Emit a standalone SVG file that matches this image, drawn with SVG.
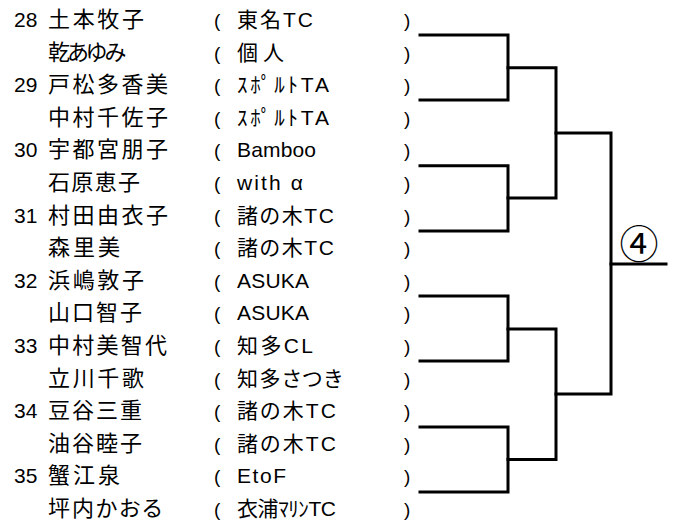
<svg xmlns="http://www.w3.org/2000/svg" width="678" height="522" viewBox="0 0 678 522">
<style>
text{font-family:"Liberation Sans","Noto Sans CJK JP",sans-serif;fill:#000;font-size:21px;font-feature-settings:"palt"}
.num{font-size:21px}
.nm{font-size:22px}
.p{font-size:19px}
.c{stroke:#000;stroke-width:3;fill:none;stroke-linecap:square;stroke-linejoin:miter}
.seed{font-size:39px}
</style>
<rect width="678" height="522" fill="#fff"/>
<g id="p1"><text class="num" x="14" y="27">28</text><text class="nm" x="48" y="27" textLength="96" lengthAdjust="spacing">土本牧子</text><text class="p" x="214" y="27">(</text><text x="237" y="27" textLength="76" lengthAdjust="spacing">東名TC</text><text class="p" x="404" y="27">)</text></g>
<g id="p2"><text class="nm" x="48" y="59.6" textLength="78" lengthAdjust="spacing">乾あゆみ</text><text class="p" x="214" y="59.6">(</text><text x="237" y="59.6" textLength="47" lengthAdjust="spacing">個人</text><text class="p" x="404" y="59.6">)</text></g>
<g id="p3"><text class="num" x="14" y="92.2">29</text><text class="nm" x="48" y="92.2" textLength="120" lengthAdjust="spacing">戸松多香美</text><text class="p" x="214" y="92.2">(</text><text x="237" y="92.2" textLength="92" lengthAdjust="spacing">ｽﾎﾟﾙﾄTA</text><text class="p" x="404" y="92.2">)</text></g>
<g id="p4"><text class="nm" x="48" y="124.8" textLength="120" lengthAdjust="spacing">中村千佐子</text><text class="p" x="214" y="124.8">(</text><text x="237" y="124.8" textLength="92" lengthAdjust="spacing">ｽﾎﾟﾙﾄTA</text><text class="p" x="404" y="124.8">)</text></g>
<g id="p5"><text class="num" x="14" y="157.4">30</text><text class="nm" x="48" y="157.4" textLength="120" lengthAdjust="spacing">宇都宮朋子</text><text class="p" x="214" y="157.4">(</text><text x="237" y="157.4" textLength="79" lengthAdjust="spacing">Bamboo</text><text class="p" x="404" y="157.4">)</text></g>
<g id="p6"><text class="nm" x="48" y="190" textLength="92" lengthAdjust="spacing">石原恵子</text><text class="p" x="214" y="190">(</text><text x="237" y="190" textLength="66" lengthAdjust="spacing">with α</text><text class="p" x="404" y="190">)</text></g>
<g id="p7"><text class="num" x="14" y="222.6">31</text><text class="nm" x="48" y="222.6" textLength="120" lengthAdjust="spacing">村田由衣子</text><text class="p" x="214" y="222.6">(</text><text x="237" y="222.6" textLength="97" lengthAdjust="spacing">諸の木TC</text><text class="p" x="404" y="222.6">)</text></g>
<g id="p8"><text class="nm" x="48" y="255.2" textLength="72" lengthAdjust="spacing">森里美</text><text class="p" x="214" y="255.2">(</text><text x="237" y="255.2" textLength="97" lengthAdjust="spacing">諸の木TC</text><text class="p" x="404" y="255.2">)</text></g>
<g id="p9"><text class="num" x="14" y="287.8">32</text><text class="nm" x="48" y="287.8" textLength="96" lengthAdjust="spacing">浜嶋敦子</text><text class="p" x="214" y="287.8">(</text><text x="237" y="287.8" textLength="72" lengthAdjust="spacing">ASUKA</text><text class="p" x="404" y="287.8">)</text></g>
<g id="p10"><text class="nm" x="48" y="320.4" textLength="94" lengthAdjust="spacing">山口智子</text><text class="p" x="214" y="320.4">(</text><text x="237" y="320.4" textLength="72" lengthAdjust="spacing">ASUKA</text><text class="p" x="404" y="320.4">)</text></g>
<g id="p11"><text class="num" x="14" y="353">33</text><text class="nm" x="48" y="353" textLength="119" lengthAdjust="spacing">中村美智代</text><text class="p" x="214" y="353">(</text><text x="237" y="353" textLength="76" lengthAdjust="spacing">知多CL</text><text class="p" x="404" y="353">)</text></g>
<g id="p12"><text class="nm" x="48" y="385.6" textLength="96" lengthAdjust="spacing">立川千歌</text><text class="p" x="214" y="385.6">(</text><text x="237" y="385.6" textLength="105" lengthAdjust="spacing">知多さつき</text><text class="p" x="404" y="385.6">)</text></g>
<g id="p13"><text class="num" x="14" y="418.2">34</text><text class="nm" x="48" y="418.2" textLength="94" lengthAdjust="spacing">豆谷三重</text><text class="p" x="214" y="418.2">(</text><text x="237" y="418.2" textLength="99" lengthAdjust="spacing">諸の木TC</text><text class="p" x="404" y="418.2">)</text></g>
<g id="p14"><text class="nm" x="48" y="450.8" textLength="94" lengthAdjust="spacing">油谷睦子</text><text class="p" x="214" y="450.8">(</text><text x="237" y="450.8" textLength="99" lengthAdjust="spacing">諸の木TC</text><text class="p" x="404" y="450.8">)</text></g>
<g id="p15"><text class="num" x="14" y="483.4">35</text><text class="nm" x="48" y="483.4" textLength="72" lengthAdjust="spacing">蟹江泉</text><text class="p" x="214" y="483.4">(</text><text x="237" y="483.4" textLength="49" lengthAdjust="spacing">EtoF</text><text class="p" x="404" y="483.4">)</text></g>
<g id="p16"><text class="nm" x="48" y="516" textLength="114" lengthAdjust="spacing">坪内かおる</text><text class="p" x="214" y="516">(</text><text x="237" y="516" textLength="99" lengthAdjust="spacing">衣浦ﾏﾘﾝTC</text><text class="p" x="404" y="516">)</text></g>
<g id="connectors">
<path class="c" d="M420,35H508V100H420"/>
<path class="c" d="M420,165.7H508V231H420"/>
<path class="c" d="M420,296H508V361H420"/>
<path class="c" d="M420,427H508V492H420"/>
<path class="c" d="M508,67.7H556V198H508"/>
<path class="c" d="M508,329H556V459.5H508"/>
<path class="c" d="M556,133H611V394H556"/>
<path class="c" d="M611,264H666"/>
</g>
<g id="seed"><text class="seed" x="639" y="258" text-anchor="middle">④</text></g>
</svg>
